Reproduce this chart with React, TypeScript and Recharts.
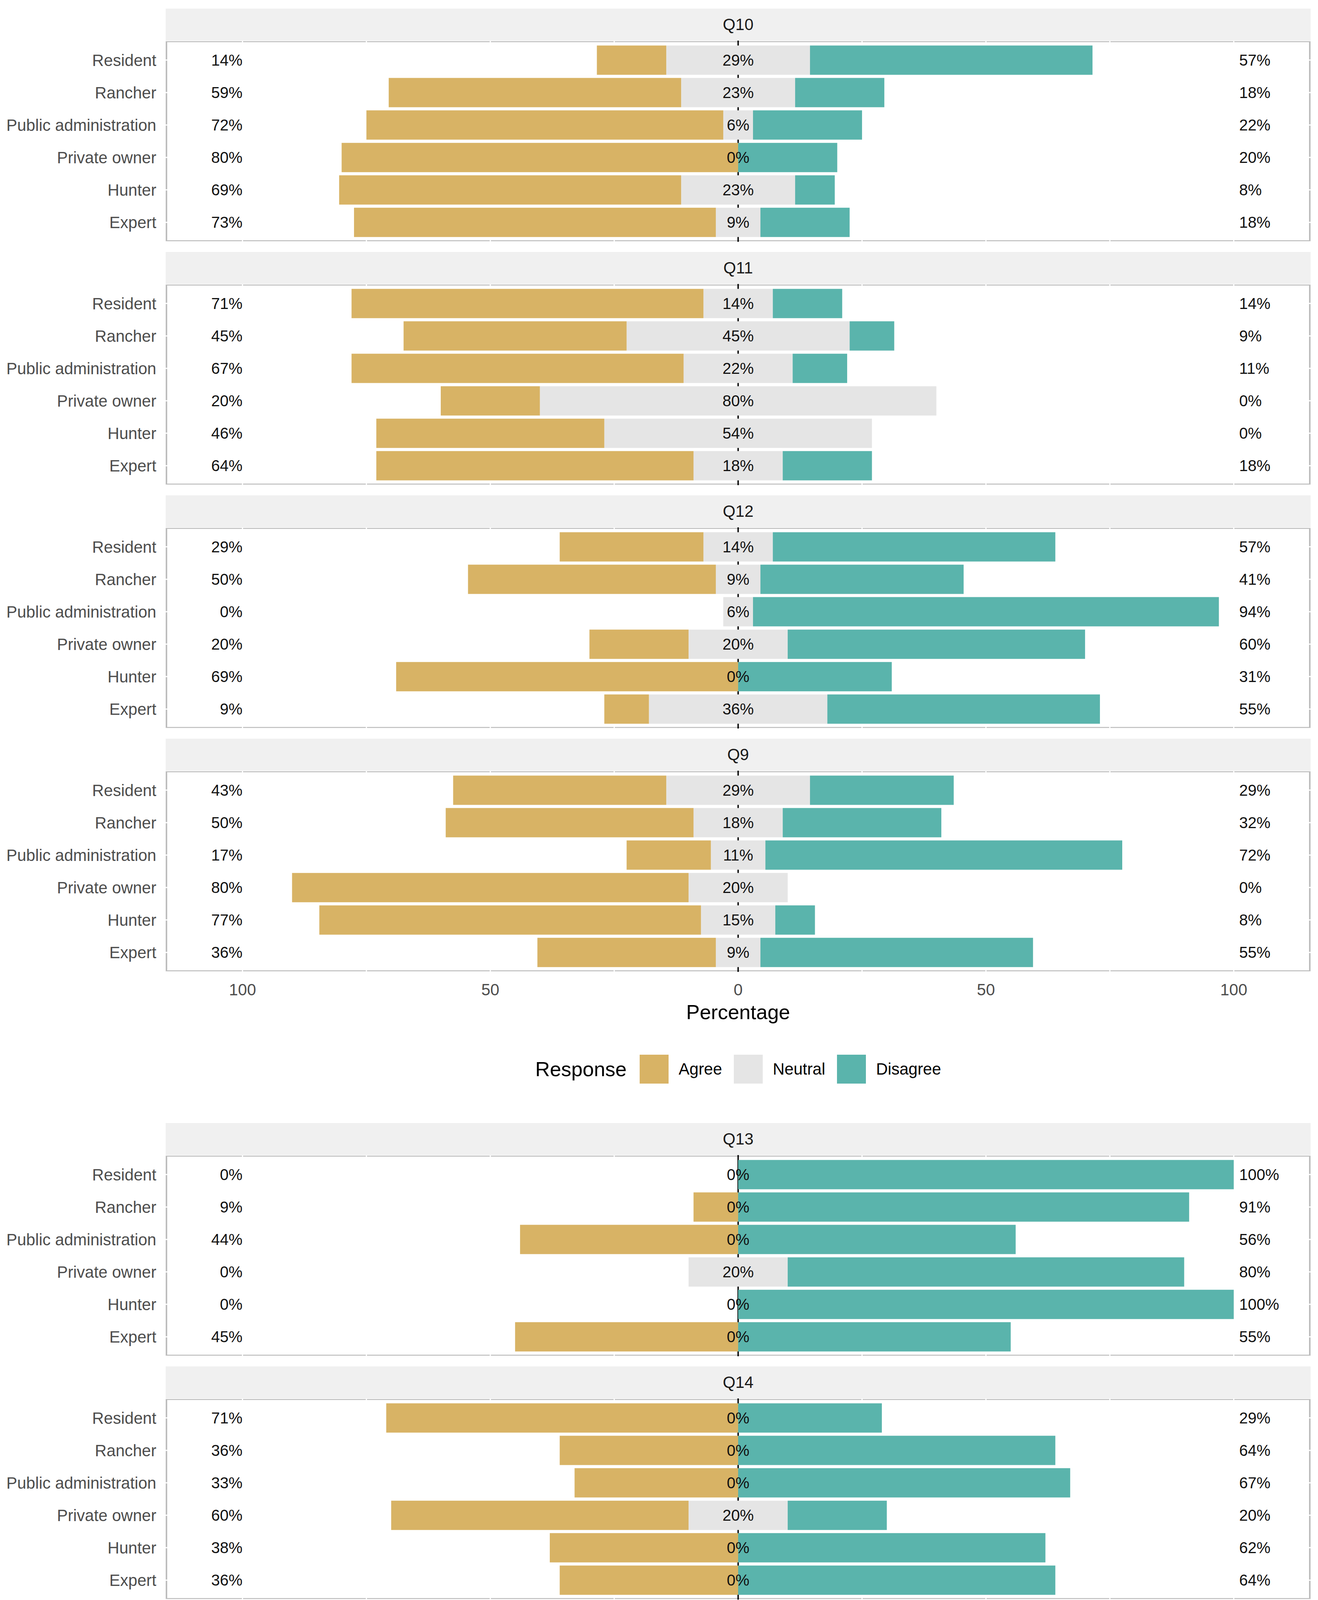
import React from 'react';
import { BarChart, Bar, XAxis, YAxis, CartesianGrid, ReferenceDot } from 'recharts';

// ---------- data ----------
const groups = ['Resident', 'Rancher', 'Public administration', 'Private owner', 'Hunter', 'Expert'];
const responses = ['Agree', 'Neutral', 'Disagree'];
const xTicks = [-100, -50, 0, 50, 100];
const gridValues = [-100, -75, -50, -25, 25, 50, 75, 100];

const q10Agree = [14, 59, 72, 80, 69, 73];
const q10Neutral = [29, 23, 6, 0, 23, 9];
const q10Disagree = [57, 18, 22, 20, 8, 18];

const q11Agree = [71, 45, 67, 20, 46, 64];
const q11Neutral = [14, 45, 22, 80, 54, 18];
const q11Disagree = [14, 9, 11, 0, 0, 18];

const q12Agree = [29, 50, 0, 20, 69, 9];
const q12Neutral = [14, 9, 6, 20, 0, 36];
const q12Disagree = [57, 41, 94, 60, 31, 55];

const q9Agree = [43, 50, 17, 80, 77, 36];
const q9Neutral = [29, 18, 11, 20, 15, 9];
const q9Disagree = [29, 32, 72, 0, 8, 55];

const q13Agree = [0, 9, 44, 0, 0, 45];
const q13Neutral = [0, 0, 0, 20, 0, 0];
const q13Disagree = [100, 91, 56, 80, 100, 55];

const q14Agree = [71, 36, 33, 60, 38, 36];
const q14Neutral = [0, 0, 0, 20, 0, 0];
const q14Disagree = [29, 64, 67, 20, 62, 64];

const q15Agree = [29, 18, 22, 0, 0, 0];
const q15Neutral = [0, 0, 0, 20, 0, 0];
const q15Disagree = [71, 82, 78, 80, 100, 100];

const q16Agree = [0, 18, 0, 0, 38, 0];
const q16Neutral = [0, 0, 0, 20, 0, 0];
const q16Disagree = [100, 82, 100, 80, 62, 100];

const figure1 = [
  { title: 'Q10', agree: q10Agree, neutral: q10Neutral, disagree: q10Disagree },
  { title: 'Q11', agree: q11Agree, neutral: q11Neutral, disagree: q11Disagree },
  { title: 'Q12', agree: q12Agree, neutral: q12Neutral, disagree: q12Disagree },
  { title: 'Q9', agree: q9Agree, neutral: q9Neutral, disagree: q9Disagree },
];
const figure2 = [
  { title: 'Q13', agree: q13Agree, neutral: q13Neutral, disagree: q13Disagree },
  { title: 'Q14', agree: q14Agree, neutral: q14Neutral, disagree: q14Disagree },
  { title: 'Q15', agree: q15Agree, neutral: q15Neutral, disagree: q15Disagree },
  { title: 'Q16', agree: q16Agree, neutral: q16Neutral, disagree: q16Disagree },
];

// ---------- style / layout ----------
const FONT = '"Liberation Sans", Arial, Helvetica, sans-serif';
const COLORS: Record<string, string> = { Agree: '#D8B365', Neutral: '#E5E5E5', Disagree: '#5AB4AC' };
const W = 3373;
const H = 5641;
const PLOT_L = 424;
const PLOT_R = 3354;
const YAXIS_W = 400;
const STRIP_H = 82;
const PANEL_H = 515;
const GAP = 26;
const PERIOD = STRIP_H + PANEL_H + GAP;
const AXIS_H = 150;
const BAND = PANEL_H / 6.2;
const PAD = BAND * 0.1;
const DOMAIN: [number, number] = [-115.5, 115.5];
const LOW_X = -100;
const HIGH_X = 101.1;

type Q = { title: string; agree: number[]; neutral: number[]; disagree: number[] };

function buildRows(q: Q) {
  return groups.map((g, i) => ({
    group: g,
    agreeVal: q.agree[i],
    neutralVal: q.neutral[i],
    disagreeVal: q.disagree[i],
    neutralNeg: -q.neutral[i] / 2,
    neutralPos: q.neutral[i] / 2,
    agreeNeg: -q.agree[i],
    disagreePos: q.disagree[i],
  }));
}

const pctLabel = (value: string, position: string) => ({
  value,
  position,
  offset: 0,
  fill: '#111111',
  fontSize: 40,
  fontFamily: FONT,
});

function Facet({ q, top, showAxis }: { q: Q; top: number; showAxis: boolean }) {
  const rows = buildRows(q);
  const h = PANEL_H + (showAxis ? AXIS_H : 0);
  return (
    <>
      <div
        style={{
          position: 'absolute',
          left: PLOT_L,
          top,
          width: PLOT_R - PLOT_L,
          height: STRIP_H,
          background: '#F0F0F0',
          display: 'flex',
          alignItems: 'center',
          justifyContent: 'center',
          fontSize: 41.6,
          lineHeight: 1,
          color: '#1A1A1A',
          fontFamily: FONT,
        }}
      >
        {q.title}
      </div>
      <div
        style={{
          position: 'absolute',
          left: PLOT_L,
          top: top + STRIP_H,
          width: PLOT_R - PLOT_L,
          height: PANEL_H,
          border: '4.5px solid #BDBDBD',
          boxSizing: 'border-box',
          background: '#FFFFFF',
        }}
      />
      <div style={{ position: 'absolute', left: 0, top: top + STRIP_H }}>
        <BarChart
          width={W}
          height={h}
          data={rows}
          layout="vertical"
          stackOffset="sign"
          barCategoryGap="5%"
          margin={{ top: 0, right: W - PLOT_R, bottom: 0, left: PLOT_L - YAXIS_W }}
        >
          <CartesianGrid stroke="#FFFFFF" strokeWidth={3} verticalValues={gridValues} />
          <CartesianGrid stroke="#000000" strokeWidth={3.5} horizontal={false} verticalValues={[0]} />
          <XAxis
            type="number"
            domain={DOMAIN}
            allowDataOverflow
            hide={!showAxis}
            ticks={xTicks}
            interval={0}
            tickFormatter={(v: number) => String(Math.abs(v))}
            tick={{ fill: '#4D4D4D', fontSize: 41.6, fontFamily: FONT }}
            tickLine={false}
            axisLine={false}
            tickSize={0}
            tickMargin={30}
            height={AXIS_H}
            label={{ value: 'Percentage', position: 'insideBottom', offset: 29, fill: '#000000', fontSize: 52, fontFamily: FONT }}
          />
          <YAxis
            type="category"
            dataKey="group"
            width={YAXIS_W}
            interval={0}
            tickLine={false}
            axisLine={false}
            tickSize={0}
            tickMargin={24}
            padding={{ top: PAD, bottom: PAD }}
            tick={{ fill: '#4D4D4D', fontSize: 41.6, fontFamily: FONT }}
          />
          <Bar dataKey="neutralNeg" stackId="s" fill={COLORS.Neutral} isAnimationActive={false} />
          <Bar dataKey="neutralPos" stackId="s" fill={COLORS.Neutral} isAnimationActive={false} />
          <Bar dataKey="agreeNeg" stackId="s" fill={COLORS.Agree} isAnimationActive={false} />
          <Bar dataKey="disagreePos" stackId="s" fill={COLORS.Disagree} isAnimationActive={false} />
          {rows.map((r) => (
            <ReferenceDot
              key={'l' + r.group}
              x={LOW_X}
              y={r.group}
              r={0}
              fill="none"
              stroke="none"
              label={pctLabel(`${r.agreeVal}%`, 'left')}
            />
          ))}
          {rows.map((r) => (
            <ReferenceDot
              key={'c' + r.group}
              x={0}
              y={r.group}
              r={0}
              fill="none"
              stroke="none"
              label={pctLabel(`${r.neutralVal}%`, 'center')}
            />
          ))}
          {rows.map((r) => (
            <ReferenceDot
              key={'r' + r.group}
              x={HIGH_X}
              y={r.group}
              r={0}
              fill="none"
              stroke="none"
              label={pctLabel(`${r.disagreeVal}%`, 'right')}
            />
          ))}
        </BarChart>
      </div>
    </>
  );
}

function LegendRow({ centerY }: { centerY: number }) {
  return (
    <div
      style={{
        position: 'absolute',
        left: PLOT_L,
        width: PLOT_R - PLOT_L,
        top: centerY - 45,
        height: 90,
        display: 'flex',
        alignItems: 'center',
        justifyContent: 'center',
        fontFamily: FONT,
        lineHeight: 1,
        color: '#000000',
      }}
    >
      <span style={{ fontSize: 52, marginRight: 33 }}>Response</span>
      {responses.map((r, i) => (
        <React.Fragment key={r}>
          <span style={{ display: 'inline-block', width: 74, height: 74, background: COLORS[r], marginRight: 26 }} />
          <span style={{ fontSize: 41.6, marginRight: i < responses.length - 1 ? 30 : 0 }}>{r}</span>
        </React.Fragment>
      ))}
    </div>
  );
}

function Figure({ facets, top }: { facets: Q[]; top: number }) {
  const bottom = top + (facets.length - 1) * PERIOD + STRIP_H + PANEL_H;
  return (
    <>
      {facets.map((q, i) => (
        <Facet key={q.title} q={q} top={top + i * PERIOD} showAxis={i === facets.length - 1} />
      ))}
      <LegendRow centerY={bottom + 249} />
    </>
  );
}

export default function App() {
  return (
    <div
      style={{
        position: 'absolute',
        left: 0,
        top: 0,
        width: W,
        height: H,
        background: '#FFFFFF',
        fontFamily: FONT,
        overflow: 'hidden',
      }}
    >
      <Figure facets={figure1} top={22} />
      <Figure facets={figure2} top={2875} />
    </div>
  );
}
